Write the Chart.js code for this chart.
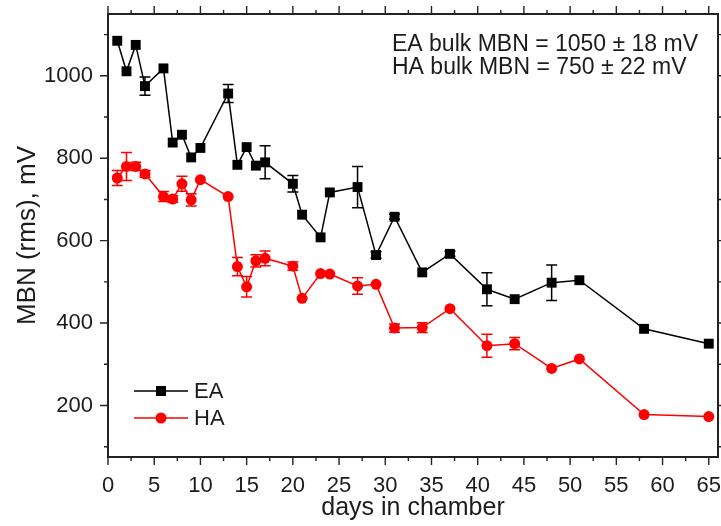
<!DOCTYPE html>
<html lang="en">
<head>
  <meta charset="UTF-8">
  <title>MBN vs days in chamber</title>
  <style>
    html, body { margin: 0; padding: 0; background: #fff; }
  </style>
</head>
<body>

  <canvas id="myChart" width="721" height="526"></canvas>

  <script src="https://cdn.jsdelivr.net/npm/chart.js"></script>
  <script>
const days = [1, 2, 3, 4, 6, 7, 8, 9, 10, 13, 14, 15, 16, 17, 20, 21, 23, 24, 27, 29, 31, 34, 37, 41, 44, 48, 51, 58, 65];
const eaValues = [1085, 1011, 1075, 975, 1018, 838, 857, 802, 825, 957, 784, 827, 782, 790, 738, 663, 608, 717, 730, 565, 658, 523, 568, 482, 458, 498, 504, 386, 350];
const eaErrors = [0, 0, 0, 22, 0, 0, 0, 0, 0, 22, 0, 0, 0, 40, 20, 0, 0, 0, 50, 8, 6, 0, 6, 40, 0, 43, 0, 0, 0];
const haValues = [752, 780, 780, 762, 707, 701, 738, 699, 748, 707, 537, 488, 551, 557, 538, 460, 520, 519, 490, 494, 388, 389, 435, 345, 350, 290, 313, 178, 173];
const haErrors = [18, 34, 10, 8, 12, 8, 18, 15, 0, 0, 22, 25, 15, 18, 10, 0, 0, 0, 20, 0, 10, 12, 0, 28, 15, 0, 0, 0, 0];
const seriesNames = ['EA', 'HA'];
const xTickValues = [0, 5, 10, 15, 20, 25, 30, 35, 40, 45, 50, 55, 60, 65];
const yTickValues = [200, 400, 600, 800, 1000];
const noteLines = ['EA bulk MBN = 1050 \u00b1 18 mV', 'HA bulk MBN = 750 \u00b1 22 mV'];

const FONT = '"Liberation Sans", Arial, Helvetica, sans-serif';
const TEXT = '#1c1c1c';
const FRAME = '#222222';

const ctx = document.getElementById('myChart').getContext('2d');

// kill the automatic label overhang padding so the plot box sits where we want it
const noPad = (scale) => {
  scale.paddingTop = 0;
  scale.paddingBottom = 0;
  scale.paddingLeft = 0;
  scale.paddingRight = 0;
};

// error bars, frame + minor ticks, legend and note
const extrasPlugin = {
  id: 'extrasPlugin',
  beforeDatasetsDraw: (chart) => {
    const c = chart.ctx;
    const xs = chart.scales.x;
    const ys = chart.scales.y;
    chart.data.datasets.forEach((ds) => {
      c.save();
      c.strokeStyle = ds.borderColor;
      c.lineWidth = 1.5;
      c.beginPath();
      ds.data.forEach((p, j) => {
        const e = ds.errors[j];
        if (!e) return;
        const px = xs.getPixelForValue(p.x);
        const top = ys.getPixelForValue(p.y + e);
        const bot = ys.getPixelForValue(p.y - e);
        c.moveTo(px, top); c.lineTo(px, bot);
        c.moveTo(px - 5.5, top); c.lineTo(px + 5.5, top);
        c.moveTo(px - 5.5, bot); c.lineTo(px + 5.5, bot);
      });
      c.stroke();
      c.restore();
    });
  },
  afterDraw: (chart) => {
    const c = chart.ctx;
    const xs = chart.scales.x;
    const ys = chart.scales.y;
    const a = chart.chartArea;

    c.save();
    c.strokeStyle = FRAME;
    c.lineWidth = 2;
    c.beginPath();
    c.rect(a.left, a.top, a.right - a.left, a.bottom - a.top);
    c.stroke();

    c.lineWidth = 1.4;
    c.beginPath();
    for (let d = 0; d <= xs.max; d += 2.5) {
      const px = xs.getPixelForValue(d);
      const len = d % 5 === 0 ? 8 : 4;
      c.moveTo(px, a.bottom); c.lineTo(px, a.bottom + len);
      c.moveTo(px, a.top); c.lineTo(px, a.top - len);
    }
    for (let v = 100; v <= ys.max; v += 100) {
      const py = ys.getPixelForValue(v);
      const len = v % 200 === 0 ? 8 : 4;
      c.moveTo(a.left, py); c.lineTo(a.left - len, py);
      c.moveTo(a.right, py); c.lineTo(a.right + len, py);
    }
    c.stroke();

    // legend, bottom left inside the frame
    c.font = '22px ' + FONT;
    c.textBaseline = 'middle';
    c.textAlign = 'left';
    chart.data.datasets.forEach((ds, i) => {
      const ly = a.bottom - 66 + i * 27;
      const lx = a.left + 26;
      c.strokeStyle = ds.borderColor;
      c.lineWidth = 1.5;
      c.beginPath();
      c.moveTo(lx, ly); c.lineTo(lx + 54, ly);
      c.stroke();
      c.fillStyle = ds.backgroundColor;
      c.beginPath();
      if (ds.pointStyle === 'rect') {
        c.rect(lx + 27 - 5, ly - 5, 10, 10);
      } else {
        c.arc(lx + 27, ly, 5.5, 0, Math.PI * 2);
      }
      c.fill();
      c.fillStyle = TEXT;
      c.fillText(ds.label, lx + 60, ly + 1);
    });

    // bulk values note, top right
    c.textBaseline = 'alphabetic';
    c.font = '23px ' + FONT;
    noteLines.forEach((t, i) => {
      c.fillText(t, a.right - 326, a.top + 37 + i * 23);
    });
    c.restore();
  }
};

const myChart = new Chart(ctx, {
  type: 'line',
  data: {
    datasets: [
      {
        label: seriesNames[0],
        data: days.map((d, i) => ({ x: d, y: eaValues[i] })),
        errors: eaErrors,
        borderColor: '#000000',
        backgroundColor: '#000000',
        borderWidth: 1.5,
        pointStyle: 'rect',
        pointRadius: 7,
        pointBorderWidth: 0,
        tension: 0
      },
      {
        label: seriesNames[1],
        data: days.map((d, i) => ({ x: d, y: haValues[i] })),
        errors: haErrors,
        borderColor: '#ff0000',
        backgroundColor: '#ff0000',
        borderWidth: 1.5,
        pointStyle: 'circle',
        pointRadius: 5.5,
        pointBorderWidth: 0,
        tension: 0
      }
    ]
  },
  options: {
    responsive: false,
    animation: false,
    devicePixelRatio: 1,
    layout: {
      autoPadding: false,
      padding: { top: 14, right: 3, left: 0, bottom: 0 }
    },
    scales: {
      x: {
        type: 'linear',
        min: 0,
        max: 66,
        afterBuildTicks: (scale) => {
          scale.ticks = xTickValues.map(v => ({ value: v }));
        },
        afterFit: (scale) => { scale.height = 69; noPad(scale); },
        grid: { display: false, drawTicks: false },
        border: { display: false },
        ticks: {
          color: TEXT,
          padding: 16,
          maxRotation: 0,
          autoSkip: false,
          font: { family: FONT, size: 22 }
        },
        title: {
          display: true,
          text: 'days in chamber',
          color: TEXT,
          padding: { top: 0, bottom: 3 },
          font: { family: FONT, size: 25 }
        }
      },
      y: {
        type: 'linear',
        min: 75,
        max: 1150,
        afterBuildTicks: (scale) => {
          scale.ticks = yTickValues.map(v => ({ value: v }));
        },
        afterFit: (scale) => { scale.width = 108; noPad(scale); },
        grid: { display: false, drawTicks: false },
        border: { display: false },
        ticks: {
          color: TEXT,
          padding: 15,
          callback: (value) => String(value),
          font: { family: FONT, size: 22 }
        },
        title: {
          display: true,
          text: 'MBN (rms), mV',
          color: TEXT,
          padding: { top: 12, bottom: 0 },
          font: { family: FONT, size: 26 }
        }
      }
    },
    plugins: {
      legend: { display: false },
      tooltip: { enabled: false }
    }
  },
  plugins: [extrasPlugin]
});
  </script>

</body>
</html>
